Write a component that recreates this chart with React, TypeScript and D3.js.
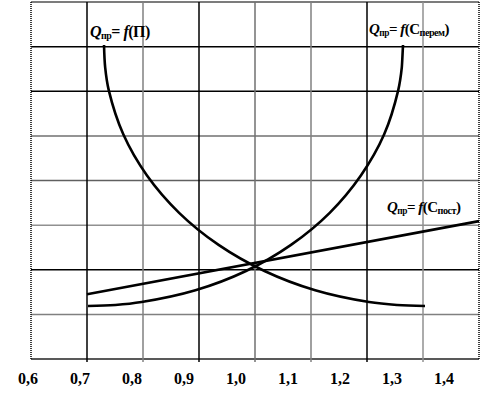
import React from "react";
import * as d3 from "d3";

// x values (relative change of the parameter), y in grid units
const tickLabels = ["0,6", "0,7", "0,8", "0,9", "1,0", "1,1", "1,2", "1,3", "1,4"];
const tickValues = [0.6, 0.7, 0.8, 0.9, 1.0, 1.1, 1.2, 1.3, 1.4];

const qP: [number, number][] = [
    [0.7304, 7.036], [0.7325, 6.528], [0.7389, 6.019], [0.7648, 5.035], [0.8071, 4.112],
    [0.8645, 3.276], [0.935, 2.557], [1.017, 1.972], [1.1075, 1.54], [1.2037, 1.276],
    [1.2538, 1.21], [1.3036, 1.188],
];
const qCperem: [number, number][] = [
    [0.7018, 1.188], [0.7507, 1.21], [0.7975, 1.276], [0.8936, 1.54], [0.9839, 1.972],
    [1.0643, 2.557], [1.1334, 3.276], [1.1891, 4.112], [1.2307, 5.035], [1.2557, 6.019],
    [1.2621, 6.528], [1.2643, 7.036],
];
const qCpost: [number, number][] = [
    [0.7, 1.45], [1.4, 3.09],
];

// grid lines and their shades
const vGrid = [0.7, 0.8, 0.9, 1.0, 1.1, 1.2, 1.3];
const vGridColor = ["#000", "#808080", "#000", "#707070", "#808080", "#000", "#909090"];
const hGrid = [1, 2, 3, 4, 5, 6, 7, 8];
const hGridColor = ["#808080", "#000", "#909090", "#606060", "#707070", "#000", "#000", "#505050"];

export default function App() {
    const width = 500;
    const height = 393;

    const x = d3.scaleLinear().domain([0.6, 1.4]).range([31, 479]);
    const y = d3.scaleLinear().domain([0, 8]).range([359, 2]);
    // tick labels sit on their own spacing in the original drawing
    const xLabel = d3.scaleLinear().domain([0.6, 1.4]).range([28, 444]);

    const line = d3
        .line<[number, number]>()
        .x((d) => x(d[0]))
        .y((d) => y(d[1]))
        .curve(d3.curveCatmullRom);

    const font = "'Times New Roman', 'Liberation Serif', Tinos, serif";

    const label = (tx: number, ty: number, arg: string, sub?: string, size = 15) => (
        <text x={tx} y={ty} fontFamily={font} fontWeight="bold" fontSize={size} letterSpacing={-0.5}>
            <tspan fontStyle="italic">Q</tspan>
            <tspan fontSize={size * 0.62} dy={2}>пр</tspan>
            <tspan dy={-2}>= </tspan>
            <tspan fontStyle="italic">f</tspan>
            <tspan>({arg}</tspan>
            {sub && <tspan fontSize={size * 0.68} dy={2}>{sub}</tspan>}
            <tspan dy={sub ? -2 : 0}>)</tspan>
        </text>
    );

    return (
        <svg width={width} height={height} style={{ position: "absolute", left: 0, top: 0 }}>
            <rect x={0} y={0} width={width} height={height} fill="#fff" />
            {/* horizontal grid */}
            {hGrid.map((v, i) => (
                <line key={"h" + v} x1={x(0.6)} x2={x(1.4)} y1={y(v)} y2={y(v)} stroke={hGridColor[i]} strokeWidth={1.5} />
            ))}
            <line x1={x(0.6)} x2={x(1.4)} y1={y(0)} y2={y(0)} stroke="#222" strokeWidth={1.5} />
            {/* vertical grid */}
            {vGrid.map((v, i) => (
                <line key={"v" + v} x1={x(v)} x2={x(v)} y1={y(8)} y2={y(0) + 3} stroke={vGridColor[i]} strokeWidth={1.5} />
            ))}
            <line x1={x(0.6)} x2={x(0.6)} y1={y(8)} y2={y(0)} stroke="#000" strokeWidth={1.5} strokeDasharray="1,1" />
            <line x1={x(1.4)} x2={x(1.4)} y1={y(8)} y2={y(0)} stroke="#000" strokeWidth={1.5} strokeDasharray="1,1" />

            {/* curves */}
            <path d={line(qP) || ""} fill="none" stroke="#000" strokeWidth={2.6} />
            <path d={line(qCperem) || ""} fill="none" stroke="#000" strokeWidth={2.6} />
            <path d={line(qCpost) || ""} fill="none" stroke="#000" strokeWidth={2.6} />

            {/* labels */}
            {label(90, 37, "П", undefined, 16)}
            {label(369, 34, "C", "перем", 15)}
            {label(387, 212, "C", "пост", 15)}

            {/* x tick labels */}
            {tickValues.map((v, i) => (
                <text key={v} x={xLabel(v)} y={384} textAnchor="middle" fontFamily={font} fontWeight="bold" fontSize={16}>
                    {tickLabels[i]}
                </text>
            ))}
        </svg>
    );
}
